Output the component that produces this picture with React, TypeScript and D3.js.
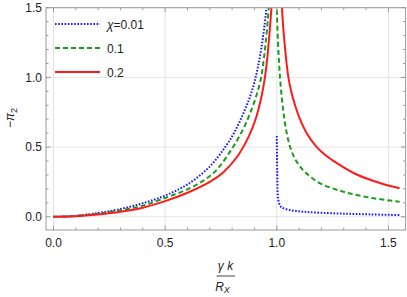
import React from 'react';
import * as d3 from 'd3';

// values: x = γk/R_X, y = -π2
const blueLeftX = [0, 0.1, 0.2, 0.3, 0.4, 0.5, 0.6, 0.7, 0.77, 0.81, 0.85, 0.88, 0.9, 0.915, 0.93, 0.945, 0.958];
const blueLeftY = [0, 0.007, 0.027, 0.056, 0.097, 0.152, 0.232, 0.36, 0.503, 0.605, 0.74, 0.86, 0.965, 1.07, 1.2, 1.37, 1.56];
const blueRightX = [1.0, 1.002, 1.005, 1.012, 1.022, 1.06, 1.12, 1.194, 1.3, 1.418, 1.55];
const blueRightY = [0.58, 0.33, 0.15, 0.09, 0.067, 0.048, 0.036, 0.029, 0.022, 0.017, 0.012];

const greenLeftX = [0, 0.1, 0.2, 0.3, 0.4, 0.5, 0.6, 0.675, 0.73, 0.8, 0.85, 0.88, 0.91, 0.93, 0.945, 0.957, 0.968];
const greenLeftY = [0, 0.006, 0.023, 0.047, 0.08, 0.135, 0.197, 0.263, 0.335, 0.49, 0.63, 0.74, 0.875, 1.0, 1.17, 1.36, 1.58];
const greenRightX = [0.9985, 1.001, 1.005, 1.01, 1.016, 1.024, 1.034, 1.046, 1.06, 1.08, 1.1, 1.13, 1.194, 1.298, 1.418, 1.55];
const greenRightY = [1.6, 1.45, 1.27, 1.11, 0.97, 0.83, 0.7, 0.59, 0.5, 0.42, 0.37, 0.315, 0.24, 0.18, 0.137, 0.108];

const redLeftX = [0, 0.1, 0.2, 0.3, 0.4, 0.5, 0.6, 0.7, 0.76, 0.82, 0.86, 0.89, 0.91, 0.93, 0.945, 0.955, 0.965, 0.973, 0.98];
const redLeftY = [0, 0.004, 0.017, 0.036, 0.065, 0.112, 0.172, 0.25, 0.318, 0.425, 0.53, 0.635, 0.725, 0.85, 0.98, 1.1, 1.27, 1.43, 1.6];
const redRightX = [1.02, 1.025, 1.033, 1.042, 1.052, 1.066, 1.082, 1.104, 1.134, 1.179, 1.22, 1.269, 1.358, 1.462, 1.55];
const redRightY = [1.62, 1.45, 1.28, 1.13, 1.0, 0.89, 0.8, 0.7, 0.6, 0.5, 0.44, 0.385, 0.303, 0.242, 0.204];

const legendLabels = ['χ=0.01', '0.1', '0.2'];
const xTicks = [0, 0.5, 1, 1.5];
const yTicks = [0, 0.5, 1, 1.5];
const xMinor = d3.range(0, 16).map(i => i / 10);
const yMinor = d3.range(0, 16).map(i => i / 10);

const W = 407;
const H = 297;
const frame = { left: 46, right: 405.6, top: 7.7, bottom: 230 };
const font = '"Liberation Sans", Arial, sans-serif';
const frameColor = '#9a9a9a';
const textColor = '#222';

const series = [
  { segs: [[blueLeftX, blueLeftY], [blueRightX, blueRightY]], color: '#1a1aff', dash: '1.6,1.6', width: 2 },
  { segs: [[greenLeftX, greenLeftY], [greenRightX, greenRightY]], color: '#1f9a1f', dash: '5,3', width: 2 },
  { segs: [[redLeftX, redLeftY], [redRightX, redRightY]], color: '#ff1a1a', dash: null, width: 2 },
];

const App: React.FC = () => {
  const x = d3.scaleLinear().domain([-0.0335, 1.577]).range([frame.left, frame.right]);
  const y = d3.scaleLinear().domain([-0.095, 1.5]).range([frame.bottom, frame.top]);

  // centripetal catmull-rom keeps the steep branches smooth without overshoot
  const line = d3.line<[number, number]>()
    .x(d => x(d[0]))
    .y(d => y(d[1]))
    .curve(d3.curveCatmullRom.alpha(0.5));

  const fmt = d3.format('.1f');
  const isMajor = (v: number) => Math.abs(v * 2 - Math.round(v * 2)) < 1e-6;

  return (
    <svg width={W} height={H} style={{ position: 'absolute', left: 0, top: 0, background: '#fff' }}
      fontFamily={font}>
      <defs>
        <clipPath id="plot">
          <rect x={frame.left} y={frame.top} width={frame.right - frame.left} height={frame.bottom - frame.top} />
        </clipPath>
      </defs>

      {/* grid */}
      {xTicks.map(t => (
        <line key={'gx' + t} x1={x(t)} x2={x(t)} y1={frame.top} y2={frame.bottom} stroke="#e4e4e4" strokeWidth={1} />
      ))}
      {yTicks.map(t => (
        <line key={'gy' + t} x1={frame.left} x2={frame.right} y1={y(t)} y2={y(t)} stroke="#e4e4e4" strokeWidth={1} />
      ))}

      {/* curves */}
      <g clipPath="url(#plot)">
        {series.map((s, i) => s.segs.map((seg, j) => {
          const pts = seg[0].map((v, k) => [v, seg[1][k]] as [number, number]);
          return (
            <path key={i + '-' + j} d={line(pts) || ''} fill="none" stroke={s.color}
              strokeWidth={s.width} strokeDasharray={s.dash || undefined} />
          );
        }))}
      </g>

      {/* frame */}
      <rect x={frame.left} y={frame.top} width={frame.right - frame.left} height={frame.bottom - frame.top}
        fill="none" stroke={frameColor} strokeWidth={1} />

      {/* ticks */}
      {xMinor.map(t => {
        const len = isMajor(t) ? 4.5 : 2.5;
        return (
          <g key={'tx' + t} stroke={frameColor}>
            <line x1={x(t)} x2={x(t)} y1={frame.bottom} y2={frame.bottom - len} />
            <line x1={x(t)} x2={x(t)} y1={frame.top} y2={frame.top + len} />
          </g>
        );
      })}
      {yMinor.map(t => {
        const len = isMajor(t) ? 4.5 : 2.5;
        return (
          <g key={'ty' + t} stroke={frameColor}>
            <line x1={frame.left} x2={frame.left + len} y1={y(t)} y2={y(t)} />
            <line x1={frame.right} x2={frame.right - len} y1={y(t)} y2={y(t)} />
          </g>
        );
      })}

      {/* tick labels */}
      {xTicks.map(t => (
        <text key={'lx' + t} x={x(t)} y={frame.bottom + 17} textAnchor="middle" fontSize={12} fill={textColor}>{fmt(t)}</text>
      ))}
      {yTicks.map(t => (
        <text key={'ly' + t} x={frame.left - 4} y={y(t) + 4.3} textAnchor="end" fontSize={12} fill={textColor}>{fmt(t)}</text>
      ))}

      {/* axis labels */}
      <text transform={`translate(14, 118) rotate(-90)`} textAnchor="middle" fontSize={12} fill={textColor}>
        −<tspan fontStyle="italic">π</tspan><tspan fontSize={9} dy={3}>2</tspan>
      </text>
      <g fill={textColor} fontSize={12}>
        <text x={225.5} y={270} textAnchor="middle" fontStyle="italic">γ k</text>
        <line x1={216.5} x2={235} y1={276} y2={276} stroke="#444" strokeWidth={1} />
        <text x={222.5} y={291} textAnchor="middle" fontStyle="italic">R<tspan fontSize={9} dy={2}>X</tspan></text>
      </g>

      {/* legend */}
      {series.map((s, i) => (
        <g key={'lg' + i}>
          <line x1={55} x2={100} y1={24 + i * 24} y2={24 + i * 24} stroke={s.color}
            strokeWidth={s.width} strokeDasharray={s.dash || undefined} />
          <text x={107} y={28.5 + i * 24} fontSize={12} fill={textColor}>
            {i === 0 ? (<><tspan fontStyle="italic">χ</tspan>=0.01</>) : legendLabels[i]}
          </text>
        </g>
      ))}
    </svg>
  );
};

export default App;
